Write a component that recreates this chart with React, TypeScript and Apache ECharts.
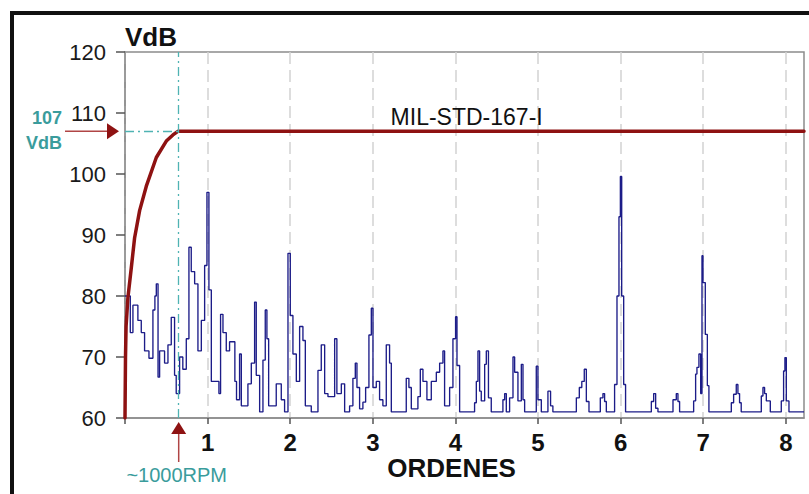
import React, { useEffect, useRef } from 'react';
import * as echarts from 'echarts';

// Vibration spectrum (orders vs VdB) – breakpoints of the staircase trace
const SPEC_ORDERS = [
  0.000, 0.064, 0.096, 0.156, 0.197, 0.237, 0.290, 0.338, 0.362, 0.379,
  0.400, 0.419, 0.479, 0.520, 0.560, 0.600, 0.620, 0.661, 0.700, 0.742,
  0.774, 0.802, 0.843, 0.883, 0.924, 0.964, 0.992, 1.016, 1.045, 1.137,
  1.157, 1.186, 1.226, 1.266, 1.330, 1.350, 1.387, 1.408, 1.488, 1.529,
  1.569, 1.589, 1.630, 1.670, 1.698, 1.718, 1.739, 1.831, 1.892, 1.932,
  1.973, 2.001, 2.033, 2.074, 2.114, 2.154, 2.183, 2.255, 2.336, 2.376,
  2.417, 2.457, 2.538, 2.565, 2.619, 2.659, 2.719, 2.759, 2.788, 2.808,
  2.840, 2.880, 2.913, 2.953, 2.982, 3.002, 3.042, 3.082, 3.122, 3.163,
  3.203, 3.224, 3.405, 3.437, 3.466, 3.546, 3.575, 3.607, 3.655, 3.708,
  3.769, 3.809, 3.849, 3.869, 3.930, 3.970, 4.002, 4.019, 4.051, 4.232,
  4.253, 4.273, 4.293, 4.313, 4.354, 4.374, 4.400, 4.434, 4.575, 4.596,
  4.616, 4.656, 4.697, 4.717, 4.757, 4.798, 4.818, 4.838, 4.979, 4.999,
  5.040, 5.120, 5.152, 5.180, 5.464, 5.500, 5.530, 5.560, 5.585, 5.617,
  5.754, 5.786, 5.806, 5.827, 5.927, 5.956, 5.980, 5.997, 6.013, 6.037,
  6.060, 6.372, 6.400, 6.424, 6.452, 6.634, 6.674, 6.694, 6.714, 6.884,
  6.908, 6.924, 6.948, 6.969, 6.985, 6.997, 7.025, 7.050, 7.069, 7.340,
  7.368, 7.400, 7.420, 7.440, 7.460, 7.703, 7.723, 7.743, 7.764, 7.812,
  7.945, 7.973, 7.989, 8.006, 8.038, 8.220,
];
const SPEC_VDB = [
  80, 74, 78.5, 76, 74, 71, 69.8, 77.7, 80, 82,
  66.7, 71, 69, 72, 76.5, 67, 64, 70, 68, 73,
  88, 84, 82, 71, 76, 85, 97, 81, 66, 64,
  77, 74, 71, 72.5, 66, 63, 70.5, 62, 65.6, 69,
  79, 67, 61, 69.5, 77.7, 73, 62, 65.6, 63, 61,
  87, 76.8, 70.5, 66, 75, 72.7, 62, 61, 67.8, 72,
  64, 63.5, 73, 64, 65.6, 61, 62, 66.5, 69, 65,
  61.5, 62.6, 65, 73.6, 78, 65, 66, 63, 62, 72,
  69, 61, 66.5, 65, 61.5, 63.5, 68, 66, 63, 66,
  67.5, 69, 71, 62, 65, 73, 76.6, 68.6, 61, 62.5,
  66, 71, 64.4, 62.8, 68.8, 71, 63.3, 61, 63, 64,
  61, 63.3, 70, 67.5, 62.8, 68.8, 63, 61, 68.5, 63,
  61, 64.4, 62, 61, 63.3, 65, 66, 68, 62.7, 61,
  63.3, 64, 62.7, 61, 65.5, 80, 93, 99.6, 80, 65.5,
  61, 62.7, 64, 61.6, 61, 63, 64, 62.7, 61, 62.8,
  67.2, 68.3, 70.5, 64, 86.6, 82.2, 73.7, 65.3, 61, 62.5,
  63.9, 65.5, 64, 62.5, 61, 63.6, 65, 64, 62.8, 61,
  62.8, 67.7, 69.9, 62.8, 61, 61,
];

// MIL-STD-167-I limit curve
const LIMIT_ORDERS = [0, 0.006, 0.013, 0.035, 0.076, 0.116, 0.177, 0.258, 0.379, 0.5, 0.58, 0.64, 8.22];
const LIMIT_VDB = [60, 70, 75, 79.7, 84.6, 89.5, 94, 98, 102.7, 105.4, 106.4, 107, 107];

const X_TICKS = [0, 1, 2, 3, 4, 5, 6, 7, 8];
const X_LABELS = ['', '1', '2', '3', '4', '5', '6', '7', '8'];
const RPM_ORDER = 0.65;
const LIMIT_LEVEL = 107;
const LIMIT_NAME = 'MIL-STD-167-I';
const LIMIT_NAME_POS = [4.136, 109.3];
const X_NAME = 'ORDENES';
const X_NAME_ORDER = 3.954;
const RPM_TEXT = '~1000RPM';

const FONT = '"Liberation Sans", Arial, Helvetica, sans-serif';
const TEAL = '#3a9c9c';
const DARK_RED = '#8e1212';

export default function App() {
  const ref = useRef<HTMLDivElement>(null);

  useEffect(() => {
    if (!ref.current) return;
    const chart = echarts.init(ref.current, null, { renderer: 'svg' });
    const axisGrey = '#8c8c8c';
    chart.setOption({
      animation: false,
      backgroundColor: '#ffffff',
      grid: {
        left: 125, right: 5, top: 52, bottom: 76,
        show: true, borderColor: axisGrey, borderWidth: 1.5, backgroundColor: 'transparent',
      },
      xAxis: {
        type: 'value', min: 0, max: 8.22, interval: 1,
        axisLine: { show: true, lineStyle: { color: axisGrey, width: 1.5 } },
        axisTick: { show: true, length: 6, lineStyle: { color: '#555', width: 1.5 }, customValues: X_TICKS },
        axisLabel: {
          customValues: X_TICKS,
          formatter: (v: number) => {
            const i = X_TICKS.indexOf(Math.round(v));
            return Math.abs(v - Math.round(v)) < 1e-6 && i >= 0 ? X_LABELS[i] : '';
          },
          fontSize: 24, fontWeight: 'bold', color: '#111', margin: 12, fontFamily: FONT,
        },
        splitLine: { show: true, lineStyle: { color: '#d2d2d2', width: 1.5, type: [12, 6] } },
      },
      yAxis: {
        type: 'value', min: 60, max: 120, interval: 10,
        name: 'VdB', nameLocation: 'end', nameGap: 2,
        nameTextStyle: { align: 'left', verticalAlign: 'bottom', fontSize: 26, fontWeight: 'bold', color: '#111', fontFamily: FONT },
        axisLine: { show: true, lineStyle: { color: axisGrey, width: 1.5 } },
        axisTick: { show: true, length: 9, lineStyle: { color: '#555', width: 1.5 } },
        axisLabel: { fontSize: 22, color: '#1a1a1a', margin: 19, fontFamily: FONT },
        splitLine: { show: false },
      },
      series: [
        {
          type: 'line',
          data: SPEC_ORDERS.map((o, i) => [o, SPEC_VDB[i]]),
          step: 'end',
          symbol: 'none',
          lineStyle: { color: '#1c1c88', width: 1.35 },
          z: 2,
          markLine: {
            silent: true,
            symbol: ['none', 'none'],
            label: { show: false },
            lineStyle: { color: '#4fb3b3', width: 1.3, type: [9, 4, 2, 4] },
            data: [
              { xAxis: RPM_ORDER },
              [{ coord: [0, LIMIT_LEVEL] }, { coord: [RPM_ORDER, LIMIT_LEVEL] }],
            ],
          },
        },
        {
          type: 'line',
          data: LIMIT_ORDERS.map((o, i) => [o, LIMIT_VDB[i]]),
          symbol: 'none',
          lineStyle: { color: DARK_RED, width: 3.5, join: 'round', cap: 'round' },
          z: 3,
        },
      ],
    });

    const g = { gridIndex: 0 };
    const [x0, y107] = chart.convertToPixel(g, [0, LIMIT_LEVEL]) as number[];
    const [xr, yAx] = chart.convertToPixel(g, [RPM_ORDER, 60]) as number[];
    const [tx, ty] = chart.convertToPixel(g, LIMIT_NAME_POS) as number[];
    const [ox] = chart.convertToPixel(g, [X_NAME_ORDER, 60]) as number[];

    chart.setOption({
      graphic: [
        {
          type: 'rect', silent: true, z: 100,
          shape: { x: 12, y: 13, width: 1000, height: 1000 },
          style: { fill: 'none', stroke: '#111', lineWidth: 4 },
        },
        {
          type: 'line', silent: true, z: 50,
          shape: { x1: x0 - 60, y1: y107, x2: x0 - 16, y2: y107 },
          style: { stroke: '#b04545', lineWidth: 1.5 },
        },
        {
          type: 'polygon', silent: true, z: 51,
          shape: { points: [[x0 - 18, y107 - 8], [x0 - 6, y107], [x0 - 18, y107 + 8]] },
          style: { fill: DARK_RED },
        },
        {
          type: 'text', silent: true, z: 50, x: x0 - 63, y: y107 - 13,
          style: { text: String(LIMIT_LEVEL), fill: TEAL, font: `bold 18px ${FONT}`, align: 'right', verticalAlign: 'middle' },
        },
        {
          type: 'text', silent: true, z: 50, x: x0 - 63, y: y107 + 12,
          style: { text: 'VdB', fill: TEAL, font: `bold 18px ${FONT}`, align: 'right', verticalAlign: 'middle' },
        },
        {
          type: 'line', silent: true, z: 50,
          shape: { x1: xr, y1: yAx + 14, x2: xr, y2: yAx + 44 },
          style: { stroke: '#b04545', lineWidth: 1.5 },
        },
        {
          type: 'polygon', silent: true, z: 51,
          shape: { points: [[xr - 7.5, yAx + 16], [xr, yAx + 4], [xr + 7.5, yAx + 16]] },
          style: { fill: DARK_RED },
        },
        {
          type: 'text', silent: true, z: 50, x: xr - 2, y: yAx + 57,
          style: { text: RPM_TEXT, fill: TEAL, font: `20px ${FONT}`, align: 'center', verticalAlign: 'middle' },
        },
        {
          type: 'text', silent: true, z: 50, x: tx, y: ty,
          style: { text: LIMIT_NAME, fill: '#111', font: `23px ${FONT}`, align: 'center', verticalAlign: 'middle' },
        },
        {
          type: 'text', silent: true, z: 50, x: ox, y: yAx + 50,
          style: { text: X_NAME, fill: '#111', font: `bold 26px ${FONT}`, align: 'center', verticalAlign: 'middle' },
        },
      ],
    });

    return () => chart.dispose();
  }, []);

  return (
    <div
      ref={ref}
      style={{ position: 'absolute', left: 0, top: 0, width: 809, height: 494, background: '#fff' }}
    />
  );
}
